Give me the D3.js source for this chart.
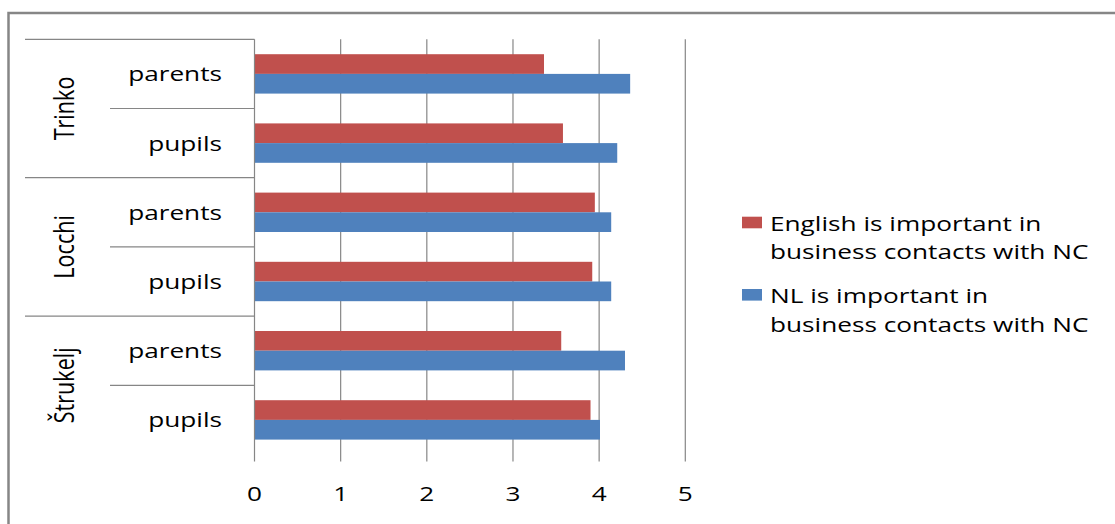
<!DOCTYPE html>
<html>
<head>
<meta charset="utf-8">
<script src="https://cdn.jsdelivr.net/npm/d3@7"></script>
<style>
  html, body { margin: 0; padding: 0; background: #fff; }
  svg { display: block; }
  text { font-family: "Open Sans", "DejaVu Sans", sans-serif; fill: #000; }
</style>
</head>
<body>
<svg id="chart" width="1115" height="524"></svg>
<script>
// Schools (outer groups) and respondent types (inner categories), top to bottom
const schools = ["Trinko", "Locchi", "Štrukelj"];
const respondents = ["parents", "pupils"];

// Mean agreement scores, one value per school/respondent row (top to bottom)
const englishImportant = [3.36, 3.58, 3.95, 3.92, 3.56, 3.90];
const nlImportant      = [4.36, 4.21, 4.14, 4.14, 4.30, 4.01];

const seriesNames = [
  ["English is important in", "business contacts with NC"],
  ["NL is important in", "business contacts with NC"]
];
const seriesColors = ["#C0504D", "#4F81BD"];
const tickValues = [0, 1, 2, 3, 4, 5];

// Rows built from the arrays above
const rows = [];
schools.forEach(s => respondents.forEach(r => rows.push({ school: s, who: r, key: s + "|" + r })));
rows.forEach((d, i) => { d.values = [englishImportant[i], nlImportant[i]]; });

const svg = d3.select("#chart");
const SX = 1.31;          // horizontal widening of all lettering
const FS = 20;

// Outer frame
svg.append("rect")
  .attr("x", 8.5).attr("y", 13)
  .attr("width", 1130).attr("height", 530)
  .attr("fill", "none").attr("stroke", "#868686").attr("stroke-width", 2.5);

const plot = { left: 254.5, right: 685.3, top: 39.3, bottom: 454.5 };

const x = d3.scaleLinear().domain([0, 5]).range([plot.left, plot.right]);
const y = d3.scaleBand().domain(rows.map(d => d.key)).range([plot.top, plot.bottom]).padding(0);
const ySeries = d3.scaleBand().domain([0, 1]).range([0, y.bandwidth()])
  .paddingInner(0).paddingOuter(0.757);

const gridColor = "#868686";

// Vertical gridlines (extend slightly below the plot like tick marks)
svg.append("g").selectAll("line")
  .data(tickValues.slice(1))
  .join("line")
  .attr("x1", d => x(d)).attr("x2", d => x(d))
  .attr("y1", plot.top).attr("y2", plot.bottom + 7)
  .attr("stroke", gridColor).attr("stroke-width", 1.2);

// Bars
const barG = svg.append("g");
rows.forEach(row => {
  barG.append("g")
    .attr("transform", `translate(0,${y(row.key)})`)
    .selectAll("rect")
    .data(row.values)
    .join("rect")
    .attr("x", x(0))
    .attr("y", (d, i) => ySeries(i))
    .attr("width", d => x(d) - x(0))
    .attr("height", ySeries.bandwidth())
    .attr("fill", (d, i) => seriesColors[i]);
});

// Category axis line
svg.append("line")
  .attr("x1", x(0)).attr("x2", x(0))
  .attr("y1", plot.top).attr("y2", plot.bottom + 7)
  .attr("stroke", gridColor).attr("stroke-width", 1.2);

// Separators: full-width at school boundaries, short between respondent rows
const sepG = svg.append("g");
rows.forEach((row, i) => {
  const isSchoolStart = i % respondents.length === 0;
  sepG.append("line")
    .attr("x1", isSchoolStart ? 25 : 110).attr("x2", x(0))
    .attr("y1", y(row.key)).attr("y2", y(row.key))
    .attr("stroke", gridColor).attr("stroke-width", 1.2);
});

// Inner category labels
svg.append("g").selectAll("text")
  .data(rows)
  .join("text")
  .attr("transform", d => `translate(222,${y(d.key) + y.bandwidth() / 2 + 7.5}) scale(${SX},1)`)
  .attr("text-anchor", "end")
  .attr("font-size", FS)
  .text(d => d.who);

// School labels, rotated
svg.append("g").selectAll("text")
  .data(schools)
  .join("text")
  .attr("transform", (s, i) => {
    const top = y(s + "|" + respondents[0]);
    const bottom = y(s + "|" + respondents[respondents.length - 1]) + y.bandwidth();
    return `translate(73.5,${(top + bottom) / 2}) scale(1.33,1.08) rotate(-90)`;
  })
  .attr("text-anchor", "middle")
  .attr("font-size", FS)
  .text(d => d);

// Value axis tick labels
svg.append("g").selectAll("text")
  .data(tickValues)
  .join("text")
  .attr("transform", d => `translate(${x(d)},501) scale(${SX},1)`)
  .attr("text-anchor", "middle")
  .attr("font-size", FS)
  .text(d => d3.format("d")(d));

// Legend
const legend = svg.append("g");
seriesNames.forEach((lines, i) => {
  const base = 230.7 + i * 72.3;
  legend.append("rect")
    .attr("x", 742).attr("y", base - 14)
    .attr("width", 20).attr("height", 11.6)
    .attr("fill", seriesColors[i]);
  lines.forEach((line, j) => {
    legend.append("text")
      .attr("transform", `translate(770,${base + j * 28.6}) scale(${SX},1)`)
      .attr("font-size", FS)
      .text(line);
  });
});
</script>
</body>
</html>
